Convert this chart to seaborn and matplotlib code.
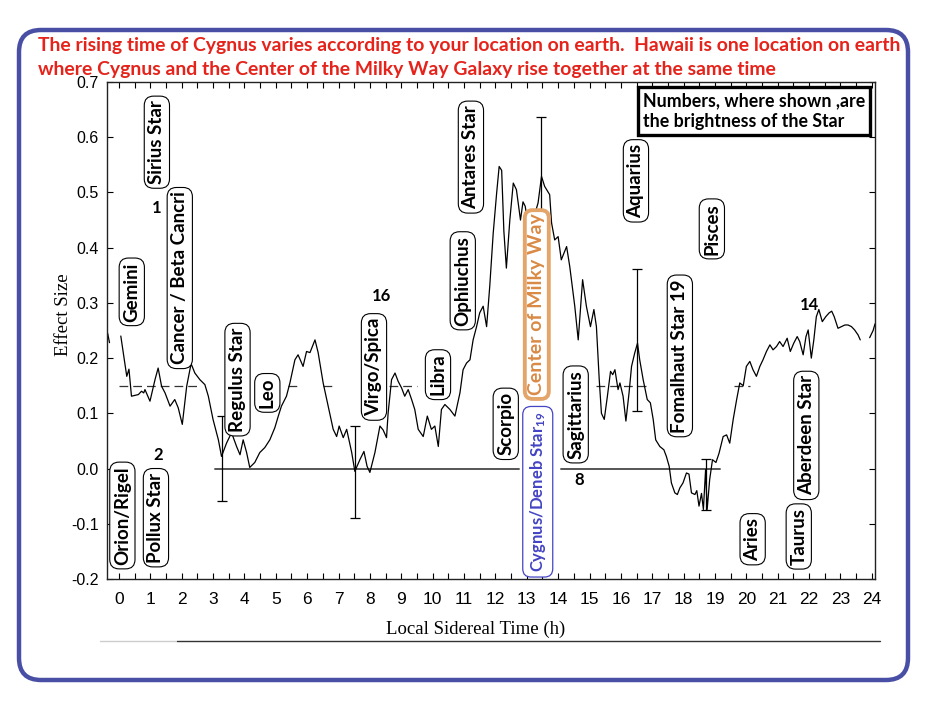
import numpy as np
import pandas as pd
import matplotlib
matplotlib.use("Agg")
import matplotlib.pyplot as plt
import seaborn as sns
from matplotlib.patches import FancyBboxPatch
from matplotlib.lines import Line2D
from matplotlib.transforms import IdentityTransform

# ---------------- data ----------------
hours = [0.06, 0.25, 0.32, 0.40, 0.62, 0.72, 0.79, 0.83, 0.99, 1.15, 1.25, 1.36, 1.47, 1.63, 1.78,
         1.89, 2.02, 2.16, 2.26, 2.30, 2.42, 2.58, 2.74, 2.85, 3.00, 3.17, 3.27, 3.43, 3.59, 3.75,
         3.86, 3.96, 4.07, 4.17, 4.33, 4.49, 4.65, 4.81, 4.97, 5.08, 5.18, 5.34, 5.45, 5.61, 5.71,
         5.87, 5.98, 6.09, 6.25, 6.35, 6.51, 6.67, 6.83, 6.94, 7.02, 7.15, 7.26, 7.42, 7.52, 7.68,
         7.81, 7.91, 8.00, 8.16, 8.32, 8.42, 8.53, 8.58, 8.69, 8.80, 8.90, 9.01, 9.11, 9.22, 9.33,
         9.43, 9.54, 9.70, 9.83, 9.96, 10.07, 10.18, 10.28, 10.39, 10.55, 10.71, 10.87, 10.97, 11.08,
         11.19, 11.29, 11.40, 11.50, 11.61, 11.72, 11.82, 11.93, 12.04, 12.12, 12.20, 12.27, 12.35,
         12.46, 12.57, 12.67, 12.80, 12.88, 12.95, 13.05, 13.20, 13.36, 13.47, 13.57, 13.73, 13.79,
         13.89, 14.00, 14.10, 14.27, 14.37, 14.53, 14.64, 14.78, 14.90, 15.03, 15.14, 15.22, 15.31,
         15.38, 15.47, 15.57, 15.67, 15.74, 15.81, 15.91, 15.97, 16.07, 16.16, 16.26, 16.34, 16.44,
         16.53, 16.60, 16.71, 16.84, 16.94, 17.03, 17.11, 17.24, 17.37, 17.45, 17.54, 17.61, 17.72,
         17.80, 17.88, 17.98, 18.09, 18.17, 18.25, 18.36, 18.42, 18.49, 18.57, 18.63, 18.70, 18.75,
         18.83, 18.92, 19.03, 19.13, 19.26, 19.37, 19.47, 19.58, 19.69, 19.79, 19.90, 20.00, 20.11,
         20.21, 20.32, 20.43, 20.53, 20.64, 20.75, 20.85, 20.96, 21.06, 21.17, 21.30, 21.40, 21.51,
         21.62, 21.70, 21.81, 21.90, 21.97, 22.07, 22.15, 22.23, 22.31, 22.42, 22.53, 22.64, 22.72,
         22.80, 22.92, 23.03, 23.14, 23.24, 23.35, 23.45, 23.56, 23.63]
effect = [0.240, 0.167, 0.180, 0.131, 0.134, 0.140, 0.137, 0.143, 0.122, 0.161, 0.182, 0.149, 0.137,
          0.113, 0.125, 0.110, 0.080, 0.149, 0.179, 0.190, 0.173, 0.161, 0.152, 0.131, 0.089, 0.052,
          0.022, 0.046, 0.065, 0.040, 0.025, 0.052, 0.029, 0.002, 0.011, 0.029, 0.038, 0.052, 0.074,
          0.095, 0.113, 0.131, 0.155, 0.197, 0.206, 0.185, 0.212, 0.210, 0.233, 0.210, 0.155, 0.113,
          0.071, 0.058, 0.077, 0.056, 0.071, 0.029, -0.005, 0.016, 0.031, 0.004, -0.007, 0.029, 0.077,
          0.070, 0.056, 0.100, 0.161, 0.173, 0.158, 0.146, 0.131, 0.143, 0.125, 0.107, 0.071, 0.058,
          0.095, 0.071, 0.077, 0.040, 0.107, 0.116, 0.107, 0.095, 0.137, 0.179, 0.191, 0.197, 0.233,
          0.257, 0.282, 0.294, 0.257, 0.330, 0.426, 0.499, 0.547, 0.540, 0.430, 0.363, 0.450, 0.517,
          0.505, 0.450, 0.483, 0.475, 0.440, 0.450, 0.481, 0.529, 0.511, 0.496, 0.445, 0.414, 0.420,
          0.378, 0.402, 0.366, 0.294, 0.233, 0.342, 0.294, 0.257, 0.288, 0.257, 0.161, 0.100, 0.089,
          0.131, 0.176, 0.170, 0.179, 0.143, 0.155, 0.131, 0.086, 0.137, 0.185, 0.209, 0.227, 0.197,
          0.161, 0.125, 0.119, 0.089, 0.052, 0.040, 0.034, 0.022, 0.004, -0.026, -0.044, -0.047,
          -0.035, -0.026, -0.008, -0.010, -0.044, -0.047, -0.040, -0.068, -0.045, -0.074, -0.002,
          -0.074, -0.020, 0.016, 0.011, 0.028, 0.058, 0.061, 0.046, 0.089, 0.125, 0.155, 0.150, 0.185,
          0.194, 0.179, 0.167, 0.185, 0.197, 0.212, 0.224, 0.215, 0.221, 0.230, 0.221, 0.236, 0.212,
          0.227, 0.239, 0.230, 0.206, 0.239, 0.251, 0.200, 0.233, 0.275, 0.288, 0.266, 0.275, 0.282,
          0.285, 0.275, 0.254, 0.257, 0.260, 0.260, 0.257, 0.251, 0.242, 0.233]
# wrapped pieces of the curve at the two edges
wrap_left_hours = [-0.36, -0.30]
wrap_left_effect = [0.245, 0.228]
wrap_right_hours = [23.93, 24.04, 24.10]
wrap_right_effect = [0.237, 0.250, 0.262]

# error bars
eb_hours = [3.27, 7.52, 13.45, 16.52, 18.72]
eb_low = [-0.058, -0.089, 0.330, 0.104, -0.075]
eb_high = [0.095, 0.077, 0.636, 0.362, 0.017]

# reference lines
threshold_level = 0.15
threshold_ranges = [(0.0, 2.6), (5.4, 5.8), (6.5, 6.8), (8.6, 9.5), (15.2, 16.8), (19.6, 20.1)]
zero_ranges = [(3.06, 12.75), (14.1, 19.15)]

# constellation / star labels
label_texts = ["Gemini", "Sirius Star", "Cancer / Beta Cancri", "Regulus Star", "Leo",
               "Virgo/Spica", "Libra", "Ophiuchus", "Antares Star", "Scorpio", "Sagittarius",
               "Orion/Rigel", "Pollux Star", "Aquarius", "Pisces", "Fomalhaut Star 19",
               "Aries", "Taurus", "Aberdeen Star"]
label_hours = [0.41, 1.21, 1.94, 3.78, 4.73, 8.13, 10.17, 10.96, 11.22, 12.33, 14.56,
               0.11, 1.18, 16.48, 18.90, 17.88, 20.20, 21.67, 21.91]
label_effect = [0.320, 0.591, 0.345, 0.161, 0.137, 0.184, 0.170, 0.340, 0.564, 0.081, 0.098,
                -0.085, -0.089, 0.521, 0.434, 0.204, -0.128, -0.123, 0.060]

# brightness numbers
num_texts = ["1", "2", "16", "8", "14"]
num_hours = [1.21, 1.25, 8.37, 14.66, 22.02]
num_effect = [0.472, 0.024, 0.312, -0.020, 0.297]

title_lines = ["The rising time of Cygnus varies according to your location on earth.  Hawaii is one location on earth",
               "where Cygnus and the Center of the Milky Way Galaxy rise together at the same time"]
note_text = "Numbers, where shown ,are\nthe brightness of the Star"
x_ticks = list(range(25))
y_ticks = [-0.2, -0.1, 0.0, 0.1, 0.2, 0.3, 0.4, 0.5, 0.6, 0.7]
y_tick_labels = ["-0.2", "-0.1", "0.0", "0.1", "0.2", "0.3", "0.4", "0.5", "0.6", "0.7"]

# ---------------- figure ----------------
sns.set_theme(style="white")
plt.rcParams["font.family"] = ["Liberation Sans", "DejaVu Sans"]
plt.rcParams["axes.unicode_minus"] = False
plt.rcParams["mathtext.default"] = "regular"

W, H = 934, 718
fig = plt.figure(figsize=(W / 100, H / 100), dpi=100)
fig.patch.set_facecolor("white")
ax = fig.add_axes([107 / W, 1 - 579 / H, (875 - 107) / W, (579 - 82) / H])
ax.set_facecolor("white")

df = pd.concat([
    pd.DataFrame({"h": hours, "y": effect, "seg": "main"}),
    pd.DataFrame({"h": wrap_left_hours, "y": wrap_left_effect, "seg": "left"}),
    pd.DataFrame({"h": wrap_right_hours, "y": wrap_right_effect, "seg": "right"}),
], ignore_index=True)
sns.lineplot(data=df, x="h", y="y", units="seg", estimator=None, sort=False,
             color="black", lw=0.9, ax=ax, zorder=2)

for a, b in threshold_ranges:
    ax.plot([a, b], [threshold_level, threshold_level], color="#333333", lw=0.9,
            ls=(0, (7, 4)), zorder=1)
for a, b in zero_ranges:
    ax.plot([a, b], [0, 0], color="#555555", lw=1.4, zorder=1)

eb_mid = [(lo + hi) / 2 for lo, hi in zip(eb_low, eb_high)]
ax.errorbar(eb_hours, eb_mid,
            yerr=[[m - lo for m, lo in zip(eb_mid, eb_low)], [hi - m for m, hi in zip(eb_mid, eb_high)]],
            fmt="none", ecolor="black", elinewidth=0.9, capsize=3.8, capthick=0.9, zorder=2)

ax.set_xlim(-0.38, 24.1)
ax.set_ylim(-0.2, 0.7)
ax.set_xticks(x_ticks)
ax.set_xticklabels([str(t) for t in x_ticks])
ax.set_xticks(np.arange(0, 24.01, 0.5), minor=True)
ax.set_yticks(y_ticks)
ax.set_yticklabels(y_tick_labels)
ax.tick_params(which="both", direction="in", top=True, right=True, bottom=True, left=True,
               length=4, width=0.8, color="black")
ax.tick_params(axis="x", labelsize=12.5, pad=9, labelcolor="black")
ax.tick_params(axis="y", labelsize=11.5, pad=6, labelcolor="black")
for s in ax.spines.values():
    s.set_color("#222222")
    s.set_linewidth(1.0)

ax.set_xlabel("Local Sidereal Time (h)", family="Liberation Serif", fontsize=13.5, color="black")
ax.xaxis.set_label_coords((476 - 107) / 768, (579 - 621) / 497)
ax.set_ylabel("Effect Size", family="Liberation Serif", fontsize=13.5, color="black")
ax.yaxis.set_label_coords((72 - 107) / 768, (579 - 315) / 497)

label_font = ["Lato", "DejaVu Sans"]
box_style = "round,pad=0.22,rounding_size=0.5"
for t, hx, yv in zip(label_texts, label_hours, label_effect):
    ax.text(hx, yv, t, rotation=90, ha="center", va="center", fontsize=13.5, fontweight="bold",
            family=label_font, color="black", zorder=5,
            bbox=dict(boxstyle=box_style, fc="white", ec="black", lw=0.8))

# Center of Milky Way (orange)
ax.text(13.32, 0.297, "Center of Milky Way", rotation=90, ha="center", va="center", fontsize=14,
        fontweight="bold", family=label_font, color="#D98A45", zorder=6,
        bbox=dict(boxstyle="round,pad=0.18,rounding_size=0.4", fc="white", ec="#E3A56A", lw=2.8))
# Cygnus / Deneb (blue) with small "19"
ax.text(13.35, -0.042, "Cygnus/Deneb Star$_{19}$", rotation=90, ha="center", va="center", fontsize=12,
        fontweight="bold", family=label_font, color="#4444C4", zorder=6,
        bbox=dict(boxstyle="round,pad=0.3,rounding_size=0.5", fc="white", ec="#4444C4", lw=0.9))

for t, hx, yv in zip(num_texts, num_hours, num_effect):
    ax.text(hx, yv, t, ha="center", va="center", fontsize=12, fontweight="bold",
            family=label_font, color="black", zorder=5)

# note box
fig.text(643 / W, 1 - 111 / H, note_text, ha="left", va="center", fontsize=12.8, fontweight="bold",
         family=label_font, color="black", linespacing=1.3, zorder=8,
         bbox=dict(boxstyle="square,pad=0.28", fc="white", ec="black", lw=2.4))

# title
renderer = fig.canvas.get_renderer()
title_targets = [(46, 867), (69, 740)]
for line, (yy, target_w) in zip(title_lines, title_targets):
    t = fig.text(38 / W, 1 - yy / H, line, ha="left", va="center", fontsize=12.5, fontweight="bold",
                 family=label_font, color="#E5231B")
    w = t.get_window_extent(renderer).width
    t.set_fontsize(12.5 * target_w / w)

# decorative lines and blue rounded frame
fig.add_artist(Line2D([100 / W, 177 / W], [1 - 641 / H] * 2, color="#CCCCCC", lw=1.0))
fig.add_artist(Line2D([177 / W, 880 / W], [1 - 641 / H] * 2, color="#333333", lw=1.0))
frame = FancyBboxPatch((19, H - 680), 889, 650, boxstyle="round,pad=0,rounding_size=22",
                       transform=IdentityTransform(), fc="none", ec="#4A4FA6", lw=3.2)
fig.add_artist(frame)

fig.savefig("out.png", dpi=100, facecolor="white")
